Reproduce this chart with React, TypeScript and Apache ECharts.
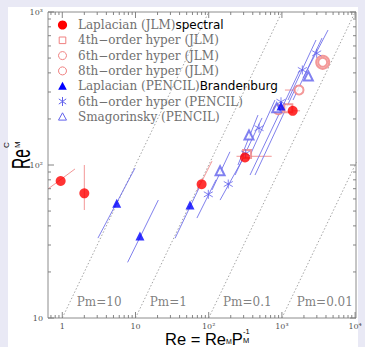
import React, { useEffect, useRef } from 'react';
import * as echarts from 'echarts';

// ---- data (Re, Re_M^c) ----
const lapJLM = [[0.95, 78.6], [2.0, 65.3], [80, 74.8], [313, 112], [1404, 226]];
const hyper4JLM = [[334, 118], [1223, 235]];
const hyper6JLM = [[893, 230], [1713, 309], [3607, 469]];
const hyper8JLM = [[3607, 469]];
const lapPENCIL = [[5.54, 56.2], [11.5, 34.4], [55.5, 54.8], [972, 243]];
const hyper6PENCIL = [[98.8, 64.3], [185, 75.1], [320, 119], [487, 174], [972, 259], [1901, 418], [2985, 537]];
const smagPENCIL = [[143, 91.8], [355, 157], [849, 237], [2296, 382]];

// error segments [Re1, ReM1, Re2, ReM2]
const jlmErrors = [
  [0.64, 69.8, 1.49, 94.2], [2.0, 50.8, 2.0, 100], [69, 67.6, 111, 106],
  [240, 114, 725, 114], [1160, 226, 1770, 226], [1100, 309, 1700, 309],
];
const pencilErrors = [
  [3.07, 33.3, 9.85, 95.5], [7.8, 23.1, 20.5, 59], [34.7, 33.2, 73.7, 70.7],
  [69, 45, 126, 80], [143, 59, 313, 116], [111, 68.7, 195, 122],
  [229, 86, 535, 203], [251, 100, 471, 212], [344, 108, 805, 266],
  [367, 86, 1766, 418], [429, 86, 1607, 333], [1211, 266, 2924, 656],
  [1419, 266, 3530, 676], [1941, 370, 4265, 762],
];

const pmValues = [10, 1, 0.1, 0.01];
const pmLabels = ['Pm=10', 'Pm=1', 'Pm=0.1', 'Pm=0.01'];
const pmLabelAt = [[3.19, 12.7], [28.1, 12.7], [337, 12.7], [3846, 12.7]];

const xTickValues = [1, 10, 100, 1000, 10000];
const xTickLabels = ['1', '10', '10²', '10³', '10⁴'];
const yTickValues = [10, 100, 1000];
const yTickLabels = ['10', '10²', '10³'];

const legendNames = ['Laplacian (JLM)', '4th−order hyper (JLM)', '6th−order hyper (JLM)', '8th−order hyper (JLM)',
  'Laplacian (PENCIL)', '6th−order hyper (PENCIL)', 'Smagorinsky (PENCIL)'];
const legendExtra = ['spectral', '', '', '', 'Brandenburg', '', ''];

const X_MIN = 0.638;
const X_MAX = 10280;
const Y_MIN = 10;
const Y_MAX = 1000;

const RED = '#ff0000';
const PINK = '#f08080';
const BLUE = '#0000ff';
const LBLUE = '#6262ec';

const L = Math.log10;
const pt = (d: number[]) => [L(d[0]), L(d[1])];
const seg = (d: number[]) => [L(d[0]), L(d[1]), L(d[2]), L(d[3])];

const ASTERISK = 'path://M0,-1L0,1M-0.82,-0.57L0.82,0.57M-0.82,0.57L0.82,-0.57';

function minorTicks(lo: number, hi: number) {
  const out: number[] = [];
  for (let d = -2; d <= 5; d++) {
    for (let k = 2; k <= 9; k++) {
      const v = k * Math.pow(10, d);
      if (v >= lo && v <= hi) out.push(v);
    }
  }
  return out;
}

function legendIcon(i: number, cx: number, cy: number): any {
  const s = 4;
  switch (i) {
    case 0: return { type: 'circle', shape: { cx, cy, r: 4.6 }, style: { fill: RED } };
    case 1: return { type: 'rect', shape: { x: cx - 3.3, y: cy - 3.3, width: 6.6, height: 6.6 }, style: { fill: 'none', stroke: PINK, lineWidth: 1 } };
    case 2:
    case 3: return { type: 'circle', shape: { cx, cy, r: s }, style: { fill: 'none', stroke: PINK, lineWidth: 1 } };
    case 4: return { type: 'polygon', shape: { points: [[cx, cy - 4.5], [cx - 4.3, cy + 3.5], [cx + 4.3, cy + 3.5]] }, style: { fill: BLUE } };
    case 5: return { type: 'group', children: [
      { type: 'line', shape: { x1: cx, y1: cy - 4.5, x2: cx, y2: cy + 4.5 }, style: { stroke: LBLUE, lineWidth: 1 } },
      { type: 'line', shape: { x1: cx - 3.7, y1: cy - 2.6, x2: cx + 3.7, y2: cy + 2.6 }, style: { stroke: LBLUE, lineWidth: 1 } },
      { type: 'line', shape: { x1: cx - 3.7, y1: cy + 2.6, x2: cx + 3.7, y2: cy - 2.6 }, style: { stroke: LBLUE, lineWidth: 1 } },
    ] };
    default: return { type: 'polygon', shape: { points: [[cx, cy - 4], [cx - 4, cy + 3.3], [cx + 4, cy + 3.3]] }, style: { fill: 'none', stroke: LBLUE, lineWidth: 1 } };
  }
}

export default function App() {
  const ref = useRef<HTMLDivElement>(null);
  useEffect(() => {
    if (!ref.current) return;
    const chart = echarts.init(ref.current, null, { renderer: 'svg' });

    const tickData: number[][] = [];
    xTickValues.forEach((v) => tickData.push([L(v), 0, 1]));
    minorTicks(X_MIN, X_MAX).forEach((v) => tickData.push([L(v), 0, 0]));
    yTickValues.forEach((v) => tickData.push([L(v), 1, 1]));
    minorTicks(Y_MIN, Y_MAX).forEach((v) => tickData.push([L(v), 1, 0]));

    const errData: number[][] = [];
    jlmErrors.forEach((e) => errData.push([...seg(e), 0]));
    pencilErrors.forEach((e) => errData.push([...seg(e), 1]));

    const serif = 'DejaVu Serif';
    const labelFmt = (vals: number[], labels: string[]) => (v: number) => {
      const i = vals.findIndex((t) => Math.abs(L(t) - v) < 1e-6);
      return i >= 0 ? labels[i] : '';
    };

    const legendGraphics: any[] = [];
    legendNames.forEach((name, i) => {
      const cy = 25 + i * 15.3;
      legendGraphics.push(legendIcon(i, 62.5, cy));
      legendGraphics.push({
        type: 'text', x: 78, y: cy,
        style: {
          text: `{a|${name}}` + (legendExtra[i] ? `{b|${legendExtra[i]}}` : ''),
          verticalAlign: 'middle',
          rich: {
            a: { fontFamily: serif, fontSize: 12, fill: '#707070' },
            b: { fontFamily: 'DejaVu Sans', fontSize: 12, fill: '#000' },
          },
        },
      });
    });

    const option: any = {
      animation: false,
      grid: { left: 48, right: 9, top: 12, bottom: 29, show: true, borderColor: '#8c8c8c', borderWidth: 1, backgroundColor: 'transparent' },
      xAxis: {
        type: 'value', min: L(X_MIN), max: L(X_MAX),
        axisLine: { show: false }, axisTick: { show: false }, splitLine: { show: false },
        axisLabel: {
          customValues: xTickValues.map(L), formatter: labelFmt(xTickValues, xTickLabels),
          fontFamily: serif, fontSize: 8, color: '#555', margin: 4,
        },
      },
      yAxis: {
        type: 'value', min: L(Y_MIN), max: L(Y_MAX),
        axisLine: { show: false }, axisTick: { show: false }, splitLine: { show: false },
        axisLabel: {
          customValues: yTickValues.map(L), formatter: labelFmt(yTickValues, yTickLabels),
          fontFamily: serif, fontSize: 8, color: '#555', margin: 5,
        },
      },
      graphic: [
        ...legendGraphics,
        {
          type: 'text', x: 165, y: 345,
          style: {
            text: '{b|Re = Re}{s|M}{b|P}', verticalAlign: 'bottom',
            rich: {
              b: { fontFamily: 'Liberation Sans', fontSize: 16.5, fill: '#000', lineHeight: 12 },
              s: { fontFamily: 'Liberation Sans', fontSize: 7, fill: '#000', lineHeight: 12, verticalAlign: 'bottom' },
            },
          },
        },
        { type: 'text', x: 243, y: 345, style: { text: '-1\nM', font: '7.5px "Liberation Sans"', lineHeight: 9, fill: '#000', verticalAlign: 'bottom' } },
        { type: 'text', x: 33, y: 169, rotation: Math.PI / 2, scaleX: 0.62,
          style: { text: 'Re', font: '25px "Liberation Sans"', fill: '#000', verticalAlign: 'bottom' } },
        { type: 'text', x: 22.5, y: 148, rotation: Math.PI / 2,
          style: { text: 'C\nM', font: '8px "Liberation Sans"', lineHeight: 11, fill: '#000', verticalAlign: 'bottom' } },
      ],
      series: [
        ...pmValues.map((p) => ({
          type: 'line', name: 'Pm' + p, silent: true, symbol: 'none', z: 1, clip: true,
          data: [[L(10 / p), L(Y_MIN)], [L(1000 / p), L(Y_MAX)]],
          lineStyle: { color: '#9a9a9a', width: 0.9, type: [1.5, 2] },
        })),
        {
          type: 'scatter', name: 'pmlabels', silent: true, symbolSize: 0, z: 1,
          data: pmLabelAt.map((d, i) => ({ value: pt(d), name: pmLabels[i] })),
          label: { show: true, position: 'inside', formatter: '{b}', fontFamily: serif, fontSize: 12, color: '#606060' },
        },
        {
          type: 'custom', name: 'ticks', silent: true, z: 3,
          data: tickData,
          renderItem: (params: any, api: any) => {
            const cs = params.coordSys;
            const v = api.value(0); const ax = api.value(1); const major = api.value(2);
            const len = major ? 6 : 3;
            const style = { stroke: '#777', lineWidth: 0.9 };
            if (ax === 0) {
              const x = api.coord([v, L(Y_MIN)])[0];
              const b = cs.y + cs.height;
              return { type: 'group', children: [
                { type: 'line', shape: { x1: x, y1: b, x2: x, y2: b - len }, style },
                { type: 'line', shape: { x1: x, y1: cs.y, x2: x, y2: cs.y + len }, style },
              ] };
            }
            const y = api.coord([L(X_MIN), v])[1];
            const r = cs.x + cs.width;
            return { type: 'group', children: [
              { type: 'line', shape: { x1: cs.x, y1: y, x2: cs.x + len, y2: y }, style },
              { type: 'line', shape: { x1: r, y1: y, x2: r - len, y2: y }, style },
            ] };
          },
        },
        {
          type: 'custom', name: 'errors', silent: true, z: 2, clip: true,
          data: errData,
          renderItem: (params: any, api: any) => {
            const a = api.coord([api.value(0), api.value(1)]);
            const b = api.coord([api.value(2), api.value(3)]);
            const red = api.value(4) === 0;
            return { type: 'line', shape: { x1: a[0], y1: a[1], x2: b[0], y2: b[1] },
              style: { stroke: red ? '#f08a8a' : '#7272ea', lineWidth: 0.9 } };
          },
        },
        { type: 'scatter', name: '8th−order hyper (JLM)', z: 4, data: hyper8JLM.map(pt), symbol: 'emptyCircle', symbolSize: 13,
          itemStyle: { color: PINK, borderColor: '#b89898', borderWidth: 1.2 } },
        { type: 'scatter', name: '6th−order hyper (JLM)', z: 4, data: hyper6JLM.map(pt), symbol: 'emptyCircle', symbolSize: 9,
          itemStyle: { color: PINK, borderColor: PINK, borderWidth: 1 } },
        { type: 'scatter', name: '4th−order hyper (JLM)', z: 4, data: hyper4JLM.map(pt), symbol: 'emptyRect', symbolSize: 8,
          itemStyle: { color: PINK, borderColor: PINK, borderWidth: 1 } },
        { type: 'scatter', name: 'Smagorinsky (PENCIL)', z: 4, data: smagPENCIL.map(pt), symbol: 'emptyTriangle', symbolSize: 9,
          itemStyle: { color: LBLUE, borderColor: LBLUE, borderWidth: 1 } },
        { type: 'scatter', name: '6th−order hyper (PENCIL)', z: 4, data: hyper6PENCIL.map(pt), symbol: ASTERISK, symbolSize: 9,
          itemStyle: { color: 'none', borderColor: LBLUE, borderWidth: 1 } },
        { type: 'scatter', name: 'Laplacian (PENCIL)', z: 5, data: lapPENCIL.map(pt), symbol: 'triangle', symbolSize: 9,
          itemStyle: { color: BLUE } },
        { type: 'scatter', name: 'Laplacian (JLM)', z: 6, data: lapJLM.map(pt), symbol: 'circle', symbolSize: 10,
          itemStyle: { color: RED } },
      ],
    };
    chart.setOption(option);
    return () => chart.dispose();
  }, []);

  return (
    <div style={{ position: 'fixed', left: 0, top: 0, width: 365, height: 347, background: '#e9e9f5', overflow: 'hidden' }}>
      <div style={{ position: 'absolute', left: 8, top: 7, width: 350, height: 340, background: '#ffffff' }} />
      <div ref={ref} style={{ position: 'absolute', left: 0, top: 0, width: 365, height: 347 }} />
    </div>
  );
}
